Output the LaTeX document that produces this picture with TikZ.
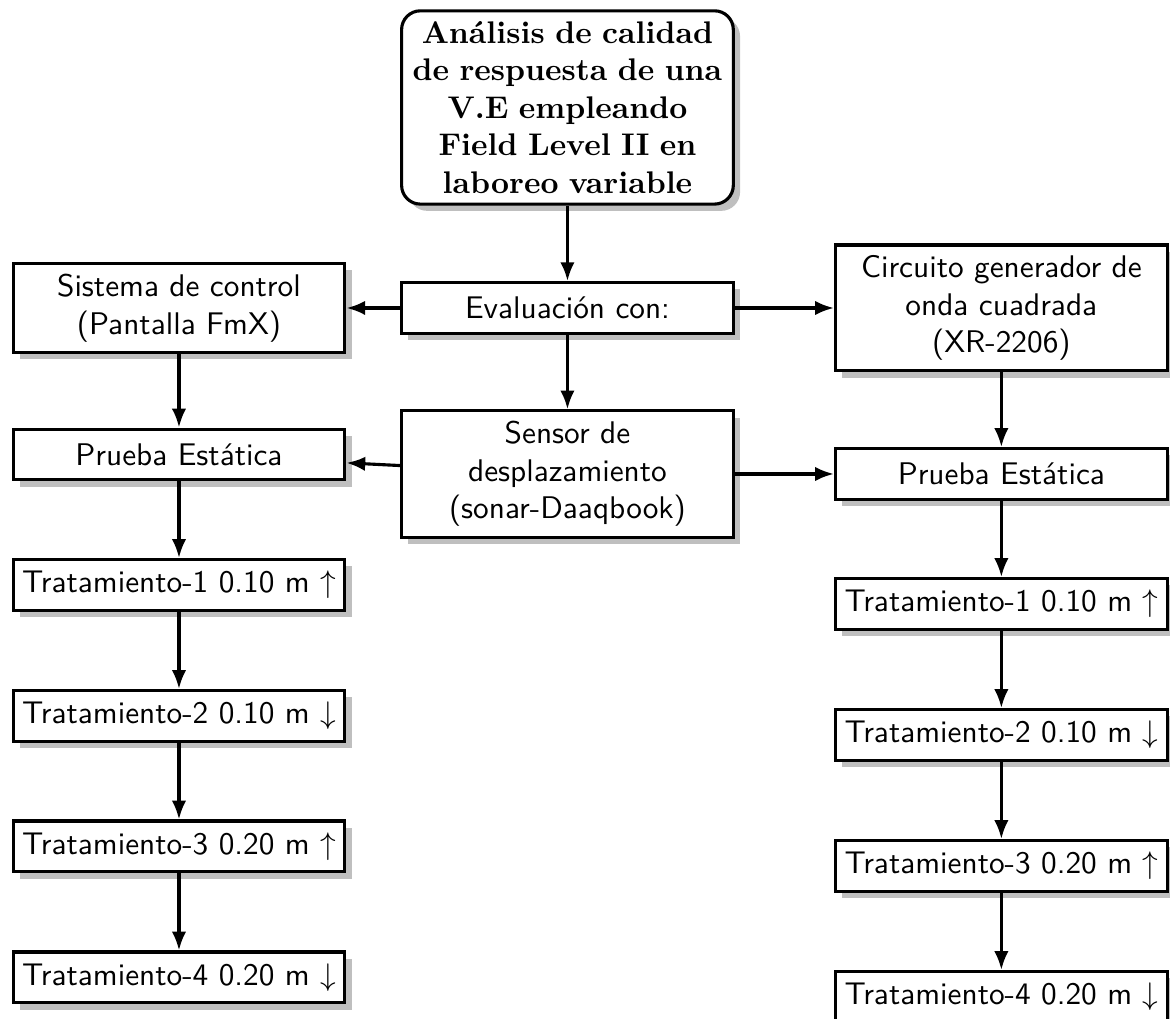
\documentclass[tikz,border=0pt]{standalone}
\usepackage{fontspec}
\usepackage{amsmath, amssymb}
\usepackage{tikz}
\usetikzlibrary{arrows.meta, shadows}

\begin{document}
\begin{tikzpicture}[
    caja/.style={draw, line width=1pt, fill=white, drop shadow, text width=3.62cm, inner xsep=1.5pt, align=center, minimum height=0.57cm, font=\sffamily},
    cajaTitulo/.style={caja, rounded corners=6pt, font=\rmfamily\bfseries},
    flecha/.style={line width=1pt, -{Latex[length=6pt, width=4.6pt]}}
  ]
  \useasboundingbox (0,0) rectangle (13.14,-11.44);
  % cabecera y bloque central
  \node[cajaTitulo] (titulo) at (6.373,-1.207) {Análisis de calidad\\de respuesta de una\\V.E empleando\\Field Level II en\\laboreo variable};
  \node[caja] (evaluacion) at (6.373,-3.459) {Evaluación con:};
  \node[caja] (sensor) at (6.373,-5.323) {Sensor de\\desplazamiento\\(sonar-Daaqbook)};
  % columna izquierda
  \node[caja] (sistema) at (2.010,-3.459) {Sistema de control\\(Pantalla FmX)};
  \node[caja] (pruebaIzq) at (2.010,-5.104) {Prueba Estática};
  \node[caja] (tratIzqA) at (2.010,-6.569) {Tratamiento-1 0.10 m $\uparrow$};
  \node[caja] (tratIzqB) at (2.010,-8.040) {Tratamiento-2 0.10 m $\downarrow$};
  \node[caja] (tratIzqC) at (2.010,-9.506) {Tratamiento-3 0.20 m $\uparrow$};
  \node[caja] (tratIzqD) at (2.010,-10.977) {Tratamiento-4 0.20 m $\downarrow$};
  % columna derecha
  \node[caja] (circuito) at (11.246,-3.459) {Circuito generador de\\onda cuadrada\\(XR-2206)};
  \node[caja] (pruebaDer) at (11.246,-5.323) {Prueba Estática};
  \node[caja] (tratDerA) at (11.246,-6.783) {Tratamiento-1 0.10 m $\uparrow$};
  \node[caja] (tratDerB) at (11.246,-8.254) {Tratamiento-2 0.10 m $\downarrow$};
  \node[caja] (tratDerC) at (11.246,-9.725) {Tratamiento-3 0.20 m $\uparrow$};
  \node[caja] (tratDerD) at (11.246,-11.196) {Tratamiento-4 0.20 m $\downarrow$};
  % conexiones
  \draw[flecha] (titulo) -- (evaluacion);
  \draw[flecha] (evaluacion) -- (sistema);
  \draw[flecha] (evaluacion) -- (circuito);
  \draw[flecha] (evaluacion) -- (sensor);
  \draw[flecha] (sensor) -- (pruebaIzq);
  \draw[flecha] (sensor) -- (pruebaDer);
  \draw[flecha] (sistema) -- (pruebaIzq);
  \draw[flecha] (pruebaIzq) -- (tratIzqA);
  \draw[flecha] (tratIzqA) -- (tratIzqB);
  \draw[flecha] (tratIzqB) -- (tratIzqC);
  \draw[flecha] (tratIzqC) -- (tratIzqD);
  \draw[flecha] (circuito) -- (pruebaDer);
  \draw[flecha] (pruebaDer) -- (tratDerA);
  \draw[flecha] (tratDerA) -- (tratDerB);
  \draw[flecha] (tratDerB) -- (tratDerC);
  \draw[flecha] (tratDerC) -- (tratDerD);
\end{tikzpicture}
\end{document}
